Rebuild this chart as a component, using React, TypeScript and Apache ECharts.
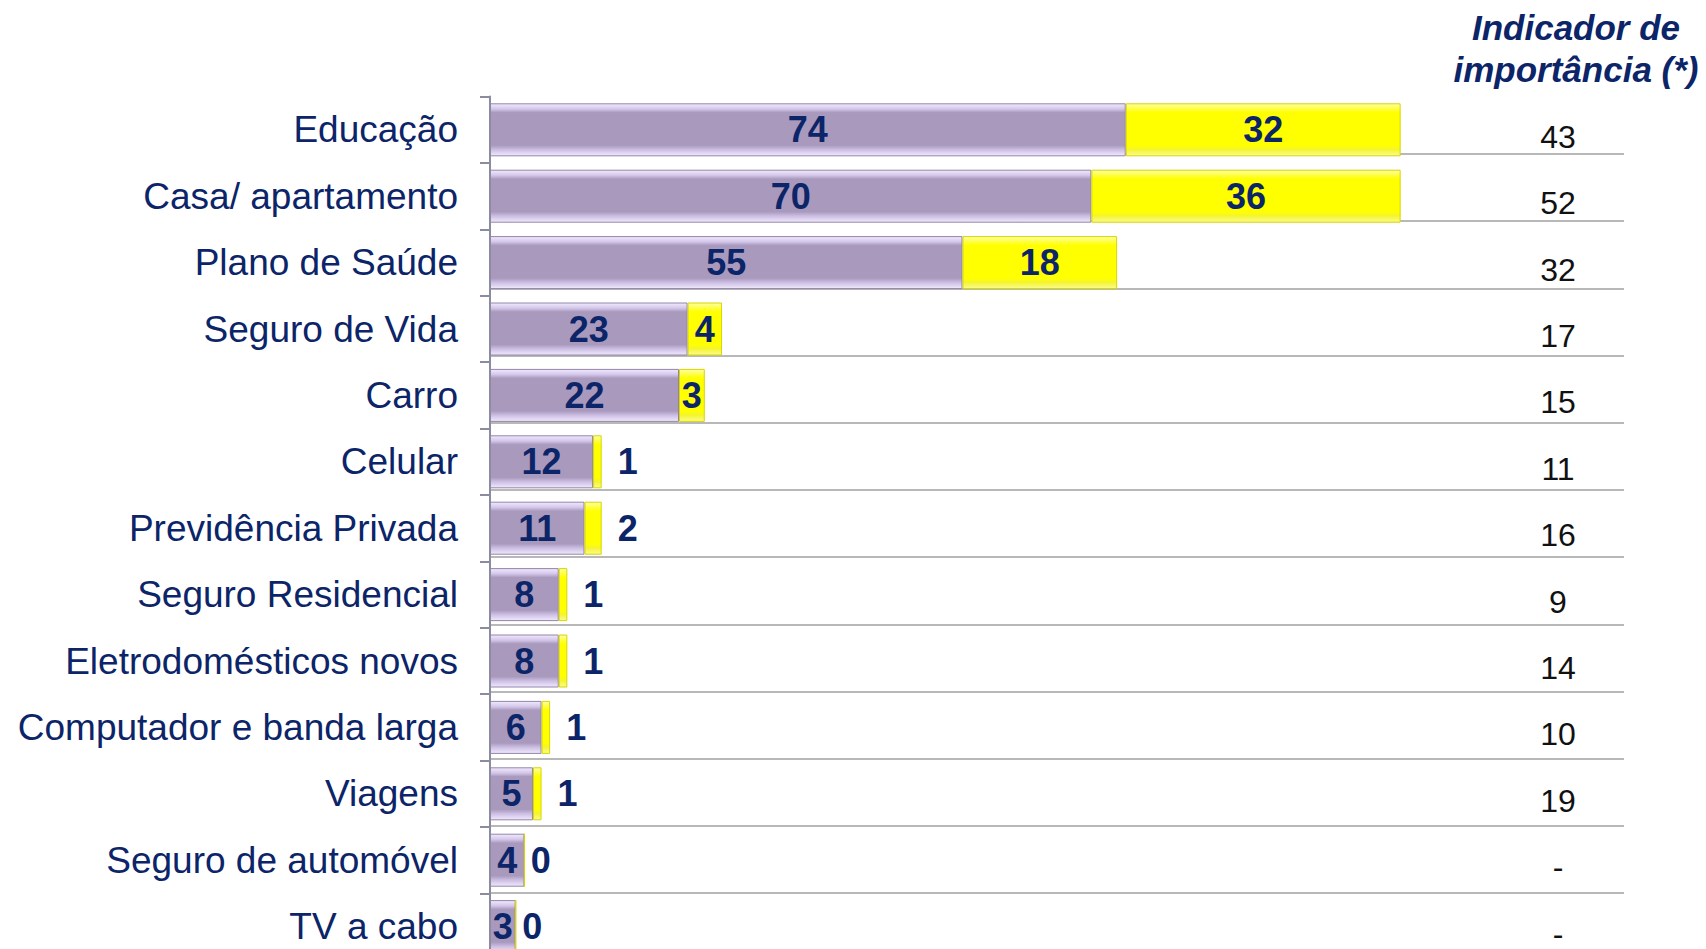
import React, { useEffect, useRef } from "react";
import * as echarts from "echarts";

const categories = [
  "Educação",
  "Casa/ apartamento",
  "Plano de Saúde",
  "Seguro de Vida",
  "Carro",
  "Celular",
  "Previdência Privada",
  "Seguro Residencial",
  "Eletrodomésticos novos",
  "Computador e banda larga",
  "Viagens",
  "Seguro de automóvel",
  "TV a cabo",
];
const primaryValues = [74, 70, 55, 23, 22, 12, 11, 8, 8, 6, 5, 4, 3];
const secondaryValues = [32, 36, 18, 4, 3, 1, 2, 1, 1, 1, 1, 0, 0];
const importanceLabels = ["43", "52", "32", "17", "15", "11", "16", "9", "14", "10", "19", "-", "-"];
const headerLines = ["Indicador de", "importância (*)"];

const NAVY = "#0c2468";
const FONT = "'Liberation Sans', Arial, sans-serif";

export default function App() {
  const ref = useRef<HTMLDivElement>(null);

  useEffect(() => {
    if (!ref.current) return;
    const chart = echarts.init(ref.current, undefined, { renderer: "svg" });

    const purpleFill = {
      type: "linear",
      x: 0,
      y: 0,
      x2: 0,
      y2: 1,
      colorStops: [
        { offset: 0, color: "#f1eafc" },
        { offset: 0.1, color: "#d3c6ea" },
        { offset: 0.17, color: "#a99abd" },
        { offset: 0.8, color: "#a99abd" },
        { offset: 0.88, color: "#cbbde3" },
        { offset: 1, color: "#f1eafc" },
      ],
    };
    const yellowFill = {
      type: "linear",
      x: 0,
      y: 0,
      x2: 0,
      y2: 1,
      colorStops: [
        { offset: 0, color: "#ffffa8" },
        { offset: 0.1, color: "#ffff40" },
        { offset: 0.17, color: "#ffff00" },
        { offset: 0.8, color: "#ffff00" },
        { offset: 0.88, color: "#f4f430" },
        { offset: 1, color: "#fbfb90" },
      ],
    };

    const mainTop = 96.6;
    const band = 66.4;
    const lineBand = 67.2;
    const n = categories.length;

    chart.setOption({
      animation: false,
      textStyle: { fontFamily: FONT },
      grid: [
        { left: 490, right: 82, top: mainTop, height: band * n },
        { left: 490, right: 82, top: 154 - lineBand, height: lineBand * n },
        { left: 1558, width: 100, top: mainTop + 7, height: band * n },
      ],
      xAxis: [
        { type: "value", gridIndex: 0, min: 0, max: 132, show: false },
        { type: "value", gridIndex: 1, min: 0, max: 1, show: false },
        { type: "value", gridIndex: 2, min: 0, max: 1, show: false },
      ],
      yAxis: [
        {
          type: "category",
          gridIndex: 0,
          inverse: true,
          data: categories,
          axisLine: { show: true, lineStyle: { color: "#8c8ca0", width: 2 } },
          axisTick: { show: true, length: 10, lineStyle: { color: "#8c8ca0", width: 2 } },
          axisLabel: { margin: 32, fontSize: 37, color: NAVY, fontFamily: FONT },
          splitLine: { show: false },
          z: 5,
        },
        {
          type: "category",
          gridIndex: 1,
          inverse: true,
          data: categories,
          axisLine: { show: false },
          axisTick: { show: false },
          axisLabel: { show: false },
          splitLine: {
            show: true,
            showMinLine: false,
            lineStyle: { color: "#a0a0a0", width: 1.5 },
          },
        },
        {
          type: "category",
          gridIndex: 2,
          inverse: true,
          data: importanceLabels,
          axisLine: { show: false },
          axisTick: { show: false },
          axisLabel: { margin: 0, align: "center", fontSize: 32, color: "#111111", fontFamily: FONT },
          splitLine: { show: false },
        },
      ],
      graphic: [
        {
          type: "text",
          x: 1576,
          y: 48,
          style: {
            text: headerLines.join("\n"),
            font: `italic bold 35px ${FONT}`,
            fill: NAVY,
            textAlign: "center",
            textVerticalAlign: "middle",
            lineHeight: 42,
          },
        },
      ],
      series: [
        {
          type: "bar",
          xAxisIndex: 0,
          yAxisIndex: 0,
          stack: "total",
          barWidth: 53,
          data: primaryValues,
          itemStyle: { color: purpleFill, borderColor: "#9384ab", borderWidth: 1 },
          label: {
            show: true,
            position: "inside",
            fontSize: 36,
            fontWeight: "bold",
            color: NAVY,
            fontFamily: FONT,
          },
          z: 3,
        },
        {
          type: "bar",
          xAxisIndex: 0,
          yAxisIndex: 0,
          stack: "total",
          barWidth: 53,
          data: secondaryValues.map((v) => ({
            value: v,
            label: { position: v >= 3 ? "inside" : "right", distance: v === 0 ? 6 : 16 },
          })),
          itemStyle: { color: yellowFill, borderColor: "#d6d600", borderWidth: 1 },
          label: {
            show: true,
            fontSize: 36,
            fontWeight: "bold",
            color: NAVY,
            fontFamily: FONT,
          },
          z: 3,
        },
      ],
    });

    return () => chart.dispose();
  }, []);

  return (
    <div
      ref={ref}
      style={{ position: "fixed", left: 0, top: 0, width: 1706, height: 1000, background: "#ffffff" }}
    />
  );
}
